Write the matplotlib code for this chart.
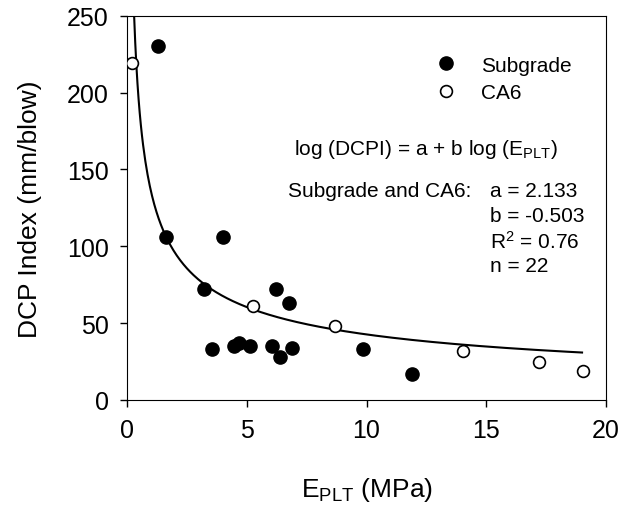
import numpy as np
import matplotlib.pyplot as plt

plt.rcParams['font.family'] = 'Liberation Sans'
plt.rcParams['mathtext.fontset'] = 'custom'
plt.rcParams['mathtext.rm'] = 'Liberation Sans'
plt.rcParams['mathtext.it'] = 'Liberation Sans'

# Subgrade points (E_PLT in MPa, DCPI in mm/blow)
sub_e = [1.28, 1.61, 4.02, 3.22, 6.22, 6.76, 3.56, 4.45, 4.69, 5.14, 6.07, 6.37, 6.87, 9.84, 11.89]
sub_dcpi = [230, 106, 106, 72, 72, 63, 33, 35, 37, 35, 35, 28, 34, 33, 17]

# CA6 points
ca6_e = [0.22, 5.25, 8.68, 14.02, 17.2, 19.03]
ca6_dcpi = [219, 61, 48, 32, 25, 19]

# fitted model: log(DCPI) = a + b log(E_PLT)
a, b = 2.133, -0.503
fit_e = np.linspace(0.296, 19.0, 400)
fit_dcpi = 10 ** a * fit_e ** b

fig = plt.figure(figsize=(6.24, 5.10), dpi=100)
ax = fig.add_axes([127 / 624, 1 - 401 / 510, 479 / 624, 384.3 / 510])

ax.plot(fit_e, fit_dcpi, color='black', lw=1.5, zorder=2)
ax.plot(sub_e, sub_dcpi, 'o', color='black', ms=9.5, label='Subgrade', zorder=3)
ax.plot(ca6_e, ca6_dcpi, 'o', mfc='white', mec='black', mew=1.2, ms=8.5, label='CA6', zorder=3)

ax.set_xlim(0, 20)
ax.set_ylim(0, 250)
ax.set_xticks([0, 5, 10, 15, 20])
ax.set_yticks([0, 50, 100, 150, 200, 250])
ax.tick_params(labelsize=18, direction='out', length=5, width=1, pad=8)
ax.tick_params(top=False, right=False)

ax.set_xlabel(r'E$_{\mathrm{PLT}}$ (MPa)', fontsize=19, labelpad=24)
ax.set_ylabel('DCP Index (mm/blow)', fontsize=19, labelpad=18)

ax.legend(loc='upper left', bbox_to_anchor=(0.605, 0.945), frameon=False, fontsize=15,
          handlelength=1.0, handletextpad=1.2, labelspacing=0.42, numpoints=1)

tx = dict(transform=ax.transAxes, fontsize=15, va='center')
ax.text((294 - 127) / 479, (401 - 150) / 384.3, r'log (DCPI) = a + b log (E$_{\mathrm{PLT}}$)', **tx)
ax.text((288 - 127) / 479, (401 - 192) / 384.3, 'Subgrade and CA6:', **tx)
stats = ['a = 2.133', 'b = -0.503', r'R$^2$ = 0.76', 'n = 22']
for i, s in enumerate(stats):
    ax.text((490 - 127) / 479, (401 - 192 - 25 * i) / 384.3, s, **tx)

fig.savefig('out.png', dpi=100)
